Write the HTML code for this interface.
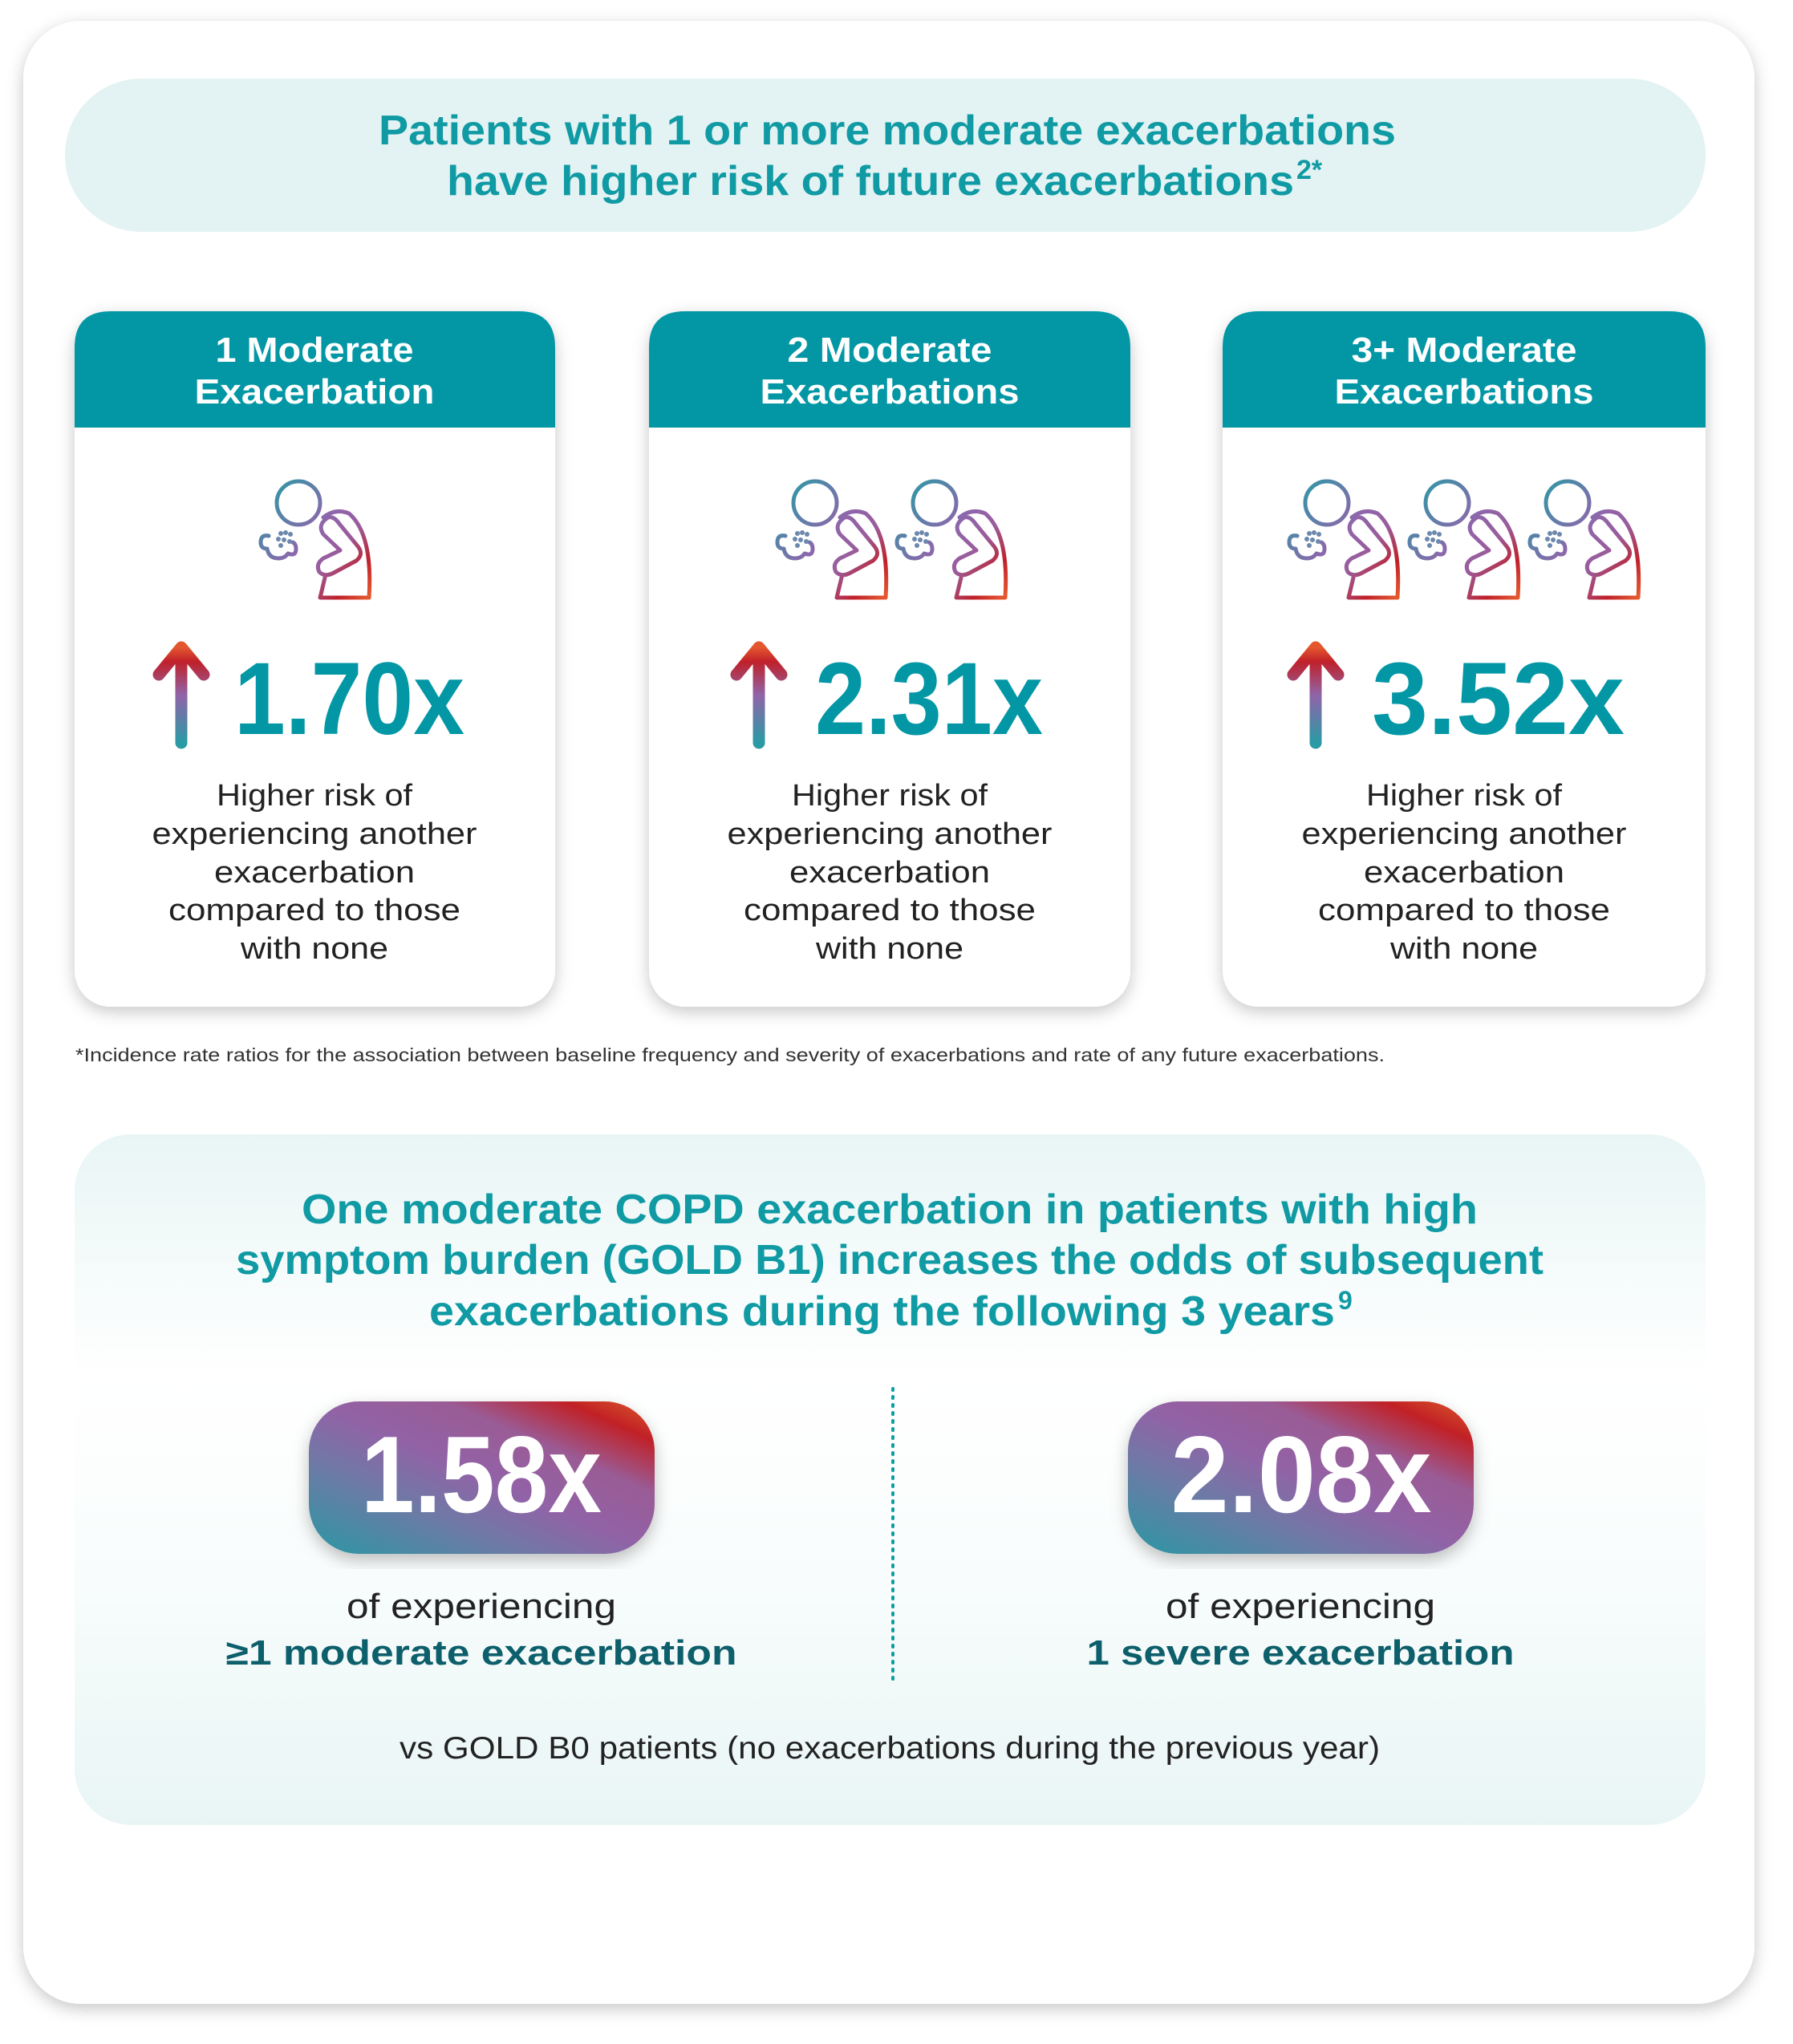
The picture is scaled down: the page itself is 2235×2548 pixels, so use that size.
<!DOCTYPE html>
<html><head><meta charset="utf-8"><style>
html,body{margin:0;padding:0;background:#fff;}
svg{display:block;}
text{font-family:"Liberation Sans",sans-serif;}
</style></head><body>
<svg width="2235" height="2548" viewBox="0 0 2235 2548" xmlns="http://www.w3.org/2000/svg">
<defs>
<filter id="sh" x="-10%" y="-10%" width="120%" height="120%"><feDropShadow dx="0" dy="6" stdDeviation="10" flood-color="#000" flood-opacity="0.22"/></filter>
<filter id="sh2" x="-10%" y="-10%" width="120%" height="120%"><feDropShadow dx="0" dy="8" stdDeviation="10" flood-color="#000" flood-opacity="0.25"/></filter>
<linearGradient id="ig" gradientUnits="userSpaceOnUse" x1="0" y1="20" x2="140" y2="140">
<stop offset="0" stop-color="#2a9aa5"/><stop offset="0.45" stop-color="#8f66ab"/><stop offset="0.65" stop-color="#9a5c9c"/><stop offset="0.85" stop-color="#c0202a"/><stop offset="1" stop-color="#e4572e"/></linearGradient>
<linearGradient id="ag" x1="0" y1="1" x2="0" y2="0">
<stop offset="0" stop-color="#2a9aa5"/><stop offset="0.5" stop-color="#9064a8"/><stop offset="0.85" stop-color="#c0202a"/><stop offset="1" stop-color="#e4572e"/></linearGradient>
<linearGradient id="pg" x1="0" y1="1" x2="1" y2="0">
<stop offset="0" stop-color="#2a97a3"/><stop offset="0.3" stop-color="#6d7aa5"/><stop offset="0.5" stop-color="#9163a7"/><stop offset="0.7" stop-color="#9a5b95"/><stop offset="0.87" stop-color="#c12127"/><stop offset="1" stop-color="#dc5a2a"/></linearGradient>
<linearGradient id="bg2" x1="0" y1="0" x2="0" y2="1">
<stop offset="0" stop-color="#e9f5f5"/><stop offset="0.35" stop-color="#ffffff"/><stop offset="0.6" stop-color="#fafdfd"/><stop offset="1" stop-color="#e9f5f5"/></linearGradient>
<g id="ic" fill="none" stroke="url(#ig)" stroke-width="5" stroke-linejoin="round" stroke-linecap="round">
<circle cx="49" cy="29" r="27"/>
<path d="M76 147 L82 122 M80 47 Q95 35 112 42 Q142 68 137 147 L76 147"/>
<path d="M86 47 Q72 56 80 68 L101 88 L80 98 Q70 105 75 115 Q82 122 93 116 L121 101 Q131 93 123 83 L100 55 Q93 45 86 47 Z"/>
<path d="M12 70 Q2 68 2 78 Q2 86 10 86 Q12 98 24 98 Q32 98 36 92 Q46 96 46 86 Q46 80 42 78"/>
<g fill="#6c88ad" stroke="none"><circle cx="27" cy="67" r="3"/><circle cx="33" cy="66" r="3"/><circle cx="39" cy="68" r="3"/><circle cx="24" cy="74" r="3"/><circle cx="31" cy="75" r="3"/><circle cx="38" cy="77" r="3"/><circle cx="27" cy="82" r="3"/></g>
</g>
<g id="arr" fill="none" stroke="url(#ag)" stroke-width="15" stroke-linecap="round" stroke-linejoin="round">
<path d="M0 125 L0 8 M-28 40 L0 6 L28 40"/>
</g>
</defs>

<rect x="29" y="26" width="2158" height="2472" rx="72" fill="#fff" filter="url(#sh)"/>

<rect x="81" y="98" width="2045" height="191" rx="95" fill="#e3f2f2"/>
<g fill="#0f9aa4" font-weight="bold" font-size="52" lengthAdjust="spacingAndGlyphs">
<text x="1106" y="180" text-anchor="middle" textLength="1268" lengthAdjust="spacingAndGlyphs">Patients with 1 or more moderate exacerbations</text>
<text x="557" y="243" textLength="1056" lengthAdjust="spacingAndGlyphs">have higher risk of future exacerbations</text>
<text x="1616" y="223" font-size="34">2*</text>
</g>

<!-- cards -->
<g>
<rect x="93" y="388" width="599" height="867" rx="45" fill="#fff" filter="url(#sh)"/>
<path d="M93 533 L93 433 Q93 388 138 388 L647 388 Q692 388 692 433 L692 533 Z" fill="#0397a5"/>
<rect x="809" y="388" width="600" height="867" rx="45" fill="#fff" filter="url(#sh)"/>
<path d="M809 533 L809 433 Q809 388 854 388 L1364 388 Q1409 388 1409 433 L1409 533 Z" fill="#0397a5"/>
<rect x="1524" y="388" width="602" height="867" rx="45" fill="#fff" filter="url(#sh)"/>
<path d="M1524 533 L1524 433 Q1524 388 1569 388 L2081 388 Q2126 388 2126 433 L2126 533 Z" fill="#0397a5"/>
</g>
<g fill="#fff" font-weight="bold" font-size="44" text-anchor="middle">
<text x="392" y="451" textLength="247" lengthAdjust="spacingAndGlyphs">1 Moderate</text><text x="392" y="503" textLength="299" lengthAdjust="spacingAndGlyphs">Exacerbation</text>
<text x="1109" y="451" textLength="255" lengthAdjust="spacingAndGlyphs">2 Moderate</text><text x="1109" y="503" textLength="323" lengthAdjust="spacingAndGlyphs">Exacerbations</text>
<text x="1825" y="451" textLength="281" lengthAdjust="spacingAndGlyphs">3+ Moderate</text><text x="1825" y="503" textLength="323" lengthAdjust="spacingAndGlyphs">Exacerbations</text>
</g>

<use href="#ic" x="323" y="598"/>
<use href="#ic" x="967" y="598"/>
<use href="#ic" x="1116" y="598"/>
<use href="#ic" x="1605" y="598"/>
<use href="#ic" x="1755" y="598"/>
<use href="#ic" x="1905" y="598"/>

<use href="#arr" x="226" y="801"/>
<use href="#arr" x="946" y="801"/>
<use href="#arr" x="1640" y="801"/>
<g fill="#0397a5" font-weight="bold" font-size="128">
<text x="292" y="915" textLength="287" lengthAdjust="spacingAndGlyphs">1.70x</text>
<text x="1016" y="915" textLength="284" lengthAdjust="spacingAndGlyphs">2.31x</text>
<text x="1710" y="915" textLength="315" lengthAdjust="spacingAndGlyphs">3.52x</text>
</g>
<g fill="#222" font-size="38" text-anchor="middle">
<text x="392" y="1004" textLength="244" lengthAdjust="spacingAndGlyphs">Higher risk of</text><text x="392" y="1052" textLength="405" lengthAdjust="spacingAndGlyphs">experiencing another</text><text x="392" y="1100" textLength="250" lengthAdjust="spacingAndGlyphs">exacerbation</text><text x="392" y="1147" textLength="364" lengthAdjust="spacingAndGlyphs">compared to those</text><text x="392" y="1195" textLength="184" lengthAdjust="spacingAndGlyphs">with none</text>
<text x="1109" y="1004" textLength="244" lengthAdjust="spacingAndGlyphs">Higher risk of</text><text x="1109" y="1052" textLength="405" lengthAdjust="spacingAndGlyphs">experiencing another</text><text x="1109" y="1100" textLength="250" lengthAdjust="spacingAndGlyphs">exacerbation</text><text x="1109" y="1147" textLength="364" lengthAdjust="spacingAndGlyphs">compared to those</text><text x="1109" y="1195" textLength="184" lengthAdjust="spacingAndGlyphs">with none</text>
<text x="1825" y="1004" textLength="244" lengthAdjust="spacingAndGlyphs">Higher risk of</text><text x="1825" y="1052" textLength="405" lengthAdjust="spacingAndGlyphs">experiencing another</text><text x="1825" y="1100" textLength="250" lengthAdjust="spacingAndGlyphs">exacerbation</text><text x="1825" y="1147" textLength="364" lengthAdjust="spacingAndGlyphs">compared to those</text><text x="1825" y="1195" textLength="184" lengthAdjust="spacingAndGlyphs">with none</text>
</g>
<text x="94" y="1323" font-size="23" fill="#333" textLength="1632" lengthAdjust="spacingAndGlyphs">*Incidence rate ratios for the association between baseline frequency and severity of exacerbations and rate of any future exacerbations.</text>

<!-- bottom panel -->
<rect x="93" y="1414" width="2033" height="861" rx="70" fill="url(#bg2)"/>
<g fill="#0f9aa4" font-weight="bold" font-size="52">
<text x="1109" y="1525" text-anchor="middle" textLength="1466" lengthAdjust="spacingAndGlyphs">One moderate COPD exacerbation in patients with high</text>
<text x="1109" y="1588" text-anchor="middle" textLength="1630" lengthAdjust="spacingAndGlyphs">symptom burden (GOLD B1) increases the odds of subsequent</text>
<text x="535" y="1652" textLength="1129" lengthAdjust="spacingAndGlyphs">exacerbations during the following 3 years</text>
<text x="1668" y="1632" font-size="32">9</text>
</g>
<line x1="1113" y1="1731" x2="1113" y2="2096" stroke="#0f9aa4" stroke-width="4" stroke-dasharray="2 8" stroke-linecap="round"/>
<rect x="385" y="1747" width="431" height="190" rx="62" fill="url(#pg)" filter="url(#sh2)"/>
<rect x="1406" y="1747" width="431" height="190" rx="62" fill="url(#pg)" filter="url(#sh2)"/>
<g fill="#fff" font-weight="bold" font-size="136" text-anchor="middle">
<text x="600" y="1885" textLength="300" lengthAdjust="spacingAndGlyphs">1.58x</text>
<text x="1622" y="1885" textLength="325" lengthAdjust="spacingAndGlyphs">2.08x</text>
</g>
<g font-size="44" text-anchor="middle">
<text x="600" y="2017" fill="#222" textLength="336" lengthAdjust="spacingAndGlyphs">of experiencing</text>
<text x="600" y="2075" fill="#0d5f6b" font-weight="bold" textLength="637" lengthAdjust="spacingAndGlyphs">≥1 moderate exacerbation</text>
<text x="1621" y="2017" fill="#222" textLength="336" lengthAdjust="spacingAndGlyphs">of experiencing</text>
<text x="1621" y="2075" fill="#0d5f6b" font-weight="bold" textLength="533" lengthAdjust="spacingAndGlyphs">1 severe exacerbation</text>
</g>
<text x="1109" y="2192" font-size="39" fill="#222" text-anchor="middle" textLength="1222" lengthAdjust="spacingAndGlyphs">vs GOLD B0 patients (no exacerbations during the previous year)</text>
</svg>
</body></html>
